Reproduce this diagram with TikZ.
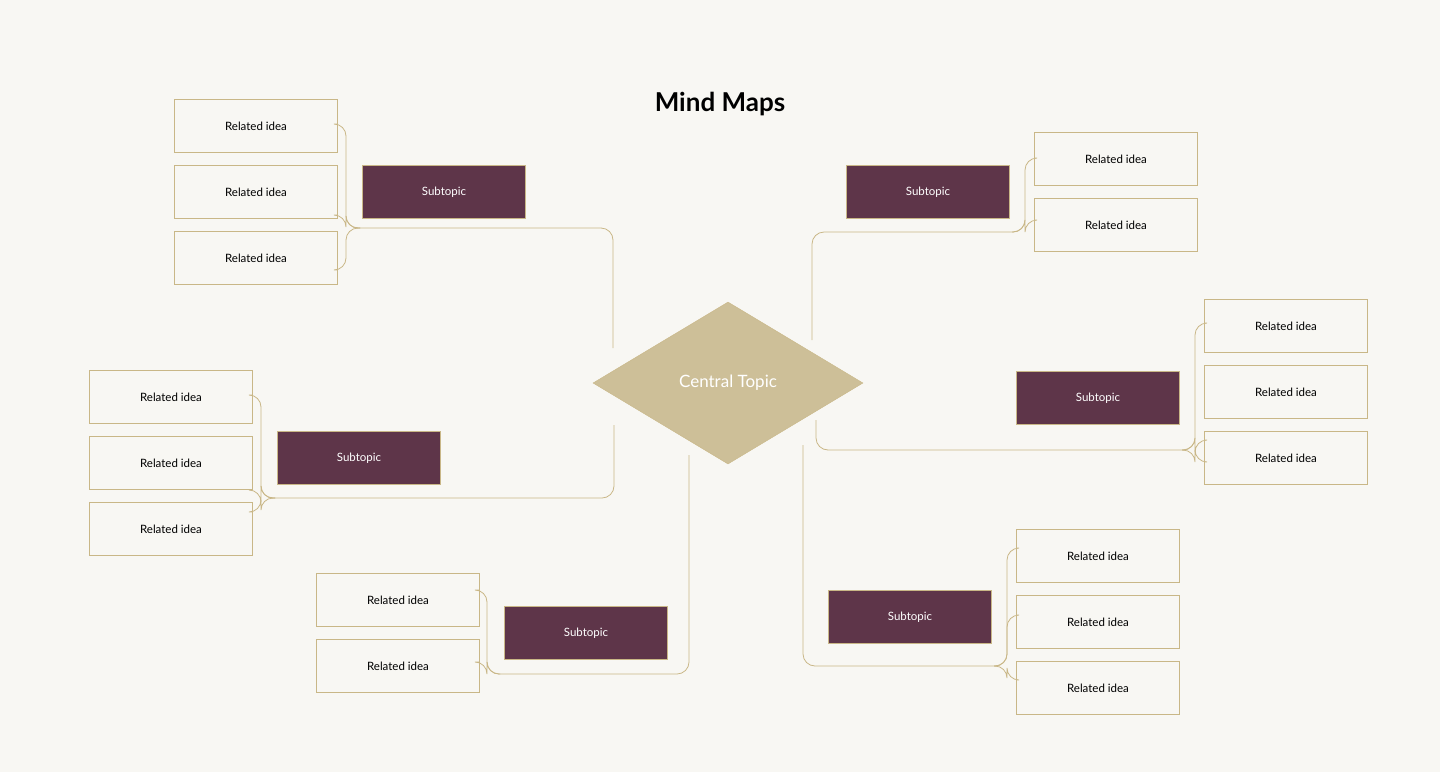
\documentclass[tikz,border=0pt]{standalone}
\usepackage{fontspec}
\setmainfont{Lato}
\usetikzlibrary{shapes.geometric, positioning}
\definecolor{bgcol}{HTML}{F8F7F3}
\definecolor{goldline}{HTML}{C9B787}
\definecolor{plum}{HTML}{5E3549}
\definecolor{sand}{HTML}{CDBF98}
\tikzset{
  idea/.style={draw=goldline, fill=bgcol, minimum width=163pt, minimum height=53pt, inner sep=0pt, font=\fontsize{11.5}{14}\selectfont},
  subtopic/.style={draw=goldline, fill=plum, text=white, minimum width=163pt, minimum height=53pt, inner sep=0pt, font=\fontsize{11.5}{14}\selectfont},
  branch/.style={draw=goldline, line width=0.8pt, rounded corners=12pt},
}
\begin{document}
\begin{tikzpicture}[x=1pt,y=1pt,yscale=-1]
\useasboundingbox[fill=bgcol] (0,0) rectangle (1440,772);

% title
\node (title) at (720,104) {\fontsize{26}{30}\selectfont\bfseries Mind Maps};

% central topic
\node[diamond, draw=goldline, fill=sand, text=white, minimum width=270pt, minimum height=162pt, aspect=1.67, inner sep=0pt, font=\fontsize{17}{20}\selectfont] (center) at (728,383) {Central Topic};

% top left group
\node[subtopic] (s1) at (444,192) {Subtopic};
\node[idea] (i11) at (256,126) {Related idea};
\node[idea] (i12) at (256,192) {Related idea};
\node[idea] (i13) at (256,258) {Related idea};
\coordinate (t1) at (613,348);
\coordinate (j1) at (360,228);
\draw[branch] (t1) |- (j1);
\draw[branch] (j1) -| (346,124) -- (i11.east |- 0,124);
\draw[branch] (j1) -| (346,215) -- (i12.east |- 0,215);
\draw[branch] (j1) -| (346,270) -- (i13.east |- 0,270);

% middle left group
\node[subtopic] (s2) at (359,458) {Subtopic};
\node[idea] (i21) at (171,397) {Related idea};
\node[idea] (i22) at (171,463) {Related idea};
\node[idea] (i23) at (171,529) {Related idea};
\coordinate (t2) at (614,425);
\coordinate (j2) at (275,498);
\draw[branch] (t2) |- (j2);
\draw[branch] (j2) -| (261,395) -- (i21.east |- 0,395);
\draw[branch] (j2) -| (261,490) -- (i22.east |- 0,490);
\draw[branch] (j2) -| (261,512) -- (i23.east |- 0,512);

% bottom left group
\node[subtopic] (s3) at (586,633) {Subtopic};
\node[idea] (i31) at (398,600) {Related idea};
\node[idea] (i32) at (398,666) {Related idea};
\coordinate (t3) at (689,455);
\coordinate (j3) at (500,674);
\draw[branch] (t3) |- (j3);
\draw[branch] (j3) -| (487,590) -- (i31.east |- 0,590);
\draw[branch] (j3) -| (487,662) -- (i32.east |- 0,662);

% top right group
\node[subtopic] (s4) at (928,192) {Subtopic};
\node[idea] (i41) at (1116,159) {Related idea};
\node[idea] (i42) at (1116,225) {Related idea};
\coordinate (t4) at (812,340);
\coordinate (j4) at (1012,232);
\draw[branch] (t4) |- (j4);
\draw[branch] (j4) -| (1025,158) -- (i41.west |- 0,158);
\draw[branch] (j4) -| (1025,220) -- (i42.west |- 0,220);

% right group
\node[subtopic] (s5) at (1098,398) {Subtopic};
\node[idea] (i51) at (1286,326) {Related idea};
\node[idea] (i52) at (1286,392) {Related idea};
\node[idea] (i53) at (1286,458) {Related idea};
\coordinate (t5) at (816,420);
\coordinate (j5) at (1182,450);
\draw[branch] (t5) |- (j5);
\draw[branch] (j5) -| (1195,323) -- (i51.west |- 0,323);
\draw[branch] (j5) -| (1195,440) -- (i52.west |- 0,440);
\draw[branch] (j5) -| (1195,462) -- (i53.west |- 0,462);

% bottom right group
\node[subtopic] (s6) at (910,617) {Subtopic};
\node[idea] (i61) at (1098,556) {Related idea};
\node[idea] (i62) at (1098,622) {Related idea};
\node[idea] (i63) at (1098,688) {Related idea};
\coordinate (t6) at (803,445);
\coordinate (j6) at (994,666);
\draw[branch] (t6) |- (j6);
\draw[branch] (j6) -| (1007,548) -- (i61.west |- 0,548);
\draw[branch] (j6) -| (1007,615) -- (i62.west |- 0,615);
\draw[branch] (j6) -| (1007,680) -- (i63.west |- 0,680);
\end{tikzpicture}
\end{document}
